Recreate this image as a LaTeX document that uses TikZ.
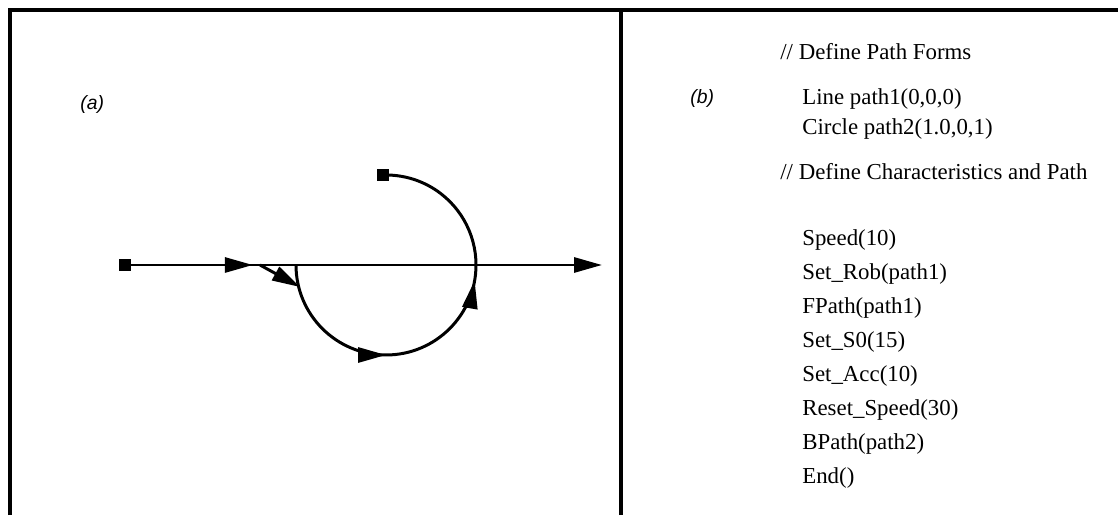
\documentclass[tikz,border=0pt]{standalone}
\usepackage{fontspec}
\setmainfont{Liberation Serif}
\setsansfont{Liberation Sans}
\usetikzlibrary{arrows.meta}
\usetikzlibrary{decorations.markings}
\newcommand{\codefont}{\fontsize{13}{16}\selectfont}
\tikzset{
  frameline/.style={draw=black,line width=2pt},
  pathline/.style={draw=black,line width=1.7pt},
  endpt/.style={rectangle,fill=black,minimum size=0.24cm,inner sep=0pt},
  codeline/.style={font=\codefont,text=black,anchor=base west,inner sep=0pt},
  panellabel/.style={font=\sffamily\itshape\fontsize{11}{13}\selectfont,text=black,anchor=base west,inner sep=0pt},
  pathtip/.tip={Triangle[length=0.56cm,width=0.3cm]}
}

\begin{document}
\begin{tikzpicture}
\useasboundingbox (0,0) rectangle (22.36,10.3);
% frame
\draw[frameline] (0.2,0) -- (0.2,10.1) -- (22.36,10.1);
\draw[frameline] (12.42,0) -- (12.42,10.1);

% (a) paths
\node[panellabel] (labela) at (1.6,8.1) {(a)};
\node[endpt] (start) at (2.5,5.0) {};
\coordinate (lineend) at (12.04,5.0);
\coordinate (arcleft) at (5.92,5.0);
\coordinate (jointail) at (5.2,5.0);
\coordinate (jointip) at (6.0,4.56);
\draw[pathline,-{pathtip},postaction={decorate},
  decoration={markings,mark=at position 0.268 with {\arrow{pathtip}}}] (start.center) -- (lineend);
\draw[pathline,postaction={decorate},
  decoration={markings,mark=at position 0.331 with {\arrow{pathtip}},mark=at position 0.625 with {\arrow{pathtip}}}]
  (arcleft) arc[start angle=180,end angle=452,radius=1.8] coordinate (arcend);
\node[endpt] (stop) at (arcend) {};
\draw[pathline,-{pathtip}] (jointail) -- (jointip);

% (b) program
\node[panellabel] (labelb) at (13.8,8.22) {(b)};
\node[codeline] (c1) at (15.6,9.1) {// Define Path Forms};
\node[codeline] (c2) at (16.04,8.2) {Line path1(0,0,0)};
\node[codeline] (c3) at (16.04,7.6) {Circle path2(1.0,0,1)};
\node[codeline] (c4) at (15.6,6.7) {// Define Characteristics and Path};
\node[codeline] (c5) at (16.04,5.38) {Speed(10)};
\node[codeline] (c6) at (16.04,4.70) {Set\_Rob(path1)};
\node[codeline] (c7) at (16.04,4.02) {FPath(path1)};
\node[codeline] (c8) at (16.04,3.34) {Set\_S0(15)};
\node[codeline] (c9) at (16.04,2.66) {Set\_Acc(10)};
\node[codeline] (c10) at (16.04,1.98) {Reset\_Speed(30)};
\node[codeline] (c11) at (16.04,1.30) {BPath(path2)};
\node[codeline] (c12) at (16.04,0.62) {End()};
\end{tikzpicture}
\end{document}
